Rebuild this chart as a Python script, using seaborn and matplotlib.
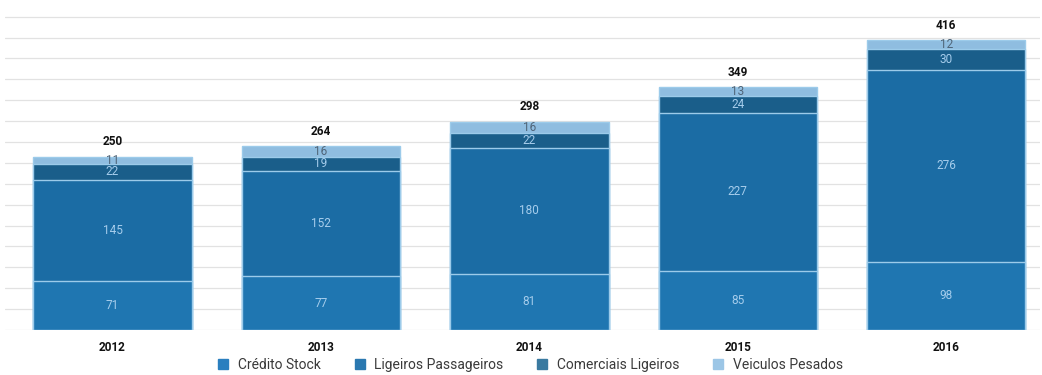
import matplotlib
matplotlib.use("Agg")
import matplotlib.pyplot as plt
import seaborn as sns
import pandas as pd
import numpy as np
from matplotlib.lines import Line2D

years = ["2012", "2013", "2014", "2015", "2016"]
credito_stock = [71, 77, 81, 85, 98]
ligeiros_passageiros = [145, 152, 180, 227, 276]
comerciais_ligeiros = [22, 19, 22, 24, 30]
veiculos_pesados = [11, 16, 16, 13, 12]
totals = [250, 264, 298, 349, 416]

series_names = ["Crédito Stock", "Ligeiros Passageiros", "Comerciais Ligeiros", "Veiculos Pesados"]
series_values = [credito_stock, ligeiros_passageiros, comerciais_ligeiros, veiculos_pesados]
colors = ["#1f76b1", "#1b6ca4", "#1a5e8a", "#8fbde0"]
legend_colors = ["#2a7fbf", "#2a78b0", "#3a7aa0", "#9cc6e6"]
label_colors = ["#a6cdec", "#a6cdec", "#a6cdec", "#4f6478"]

sns.set_theme(style="white")
plt.rcParams['font.family'] = ['Roboto', 'DejaVu Sans']

fig = plt.figure(figsize=(10.42, 3.75), dpi=100)
ax = fig.add_axes([0.005, 0.12, 0.993, 0.845])

df = pd.DataFrame({"year": years})
cum = np.cumsum(np.array(series_values), axis=0)
# draw tallest cumulative first so lower segments overlay
for i in range(len(series_names) - 1, -1, -1):
    df["v"] = cum[i]
    sns.barplot(data=df, x="year", y="v", color=colors[i], width=0.76,
                edgecolor="#9ccbea", linewidth=1.0, saturation=1, ax=ax, zorder=3)

# segment labels
for j in range(len(years)):
    bottom = 0
    for i, vals in enumerate(series_values):
        v = vals[j]
        ax.text(j, bottom + v / 2, str(v), ha="center", va="center",
                fontsize=8.5, color=label_colors[i], zorder=5)
        bottom += v
    ax.text(j, bottom + 12, str(totals[j]), ha="center", va="bottom",
            fontsize=8.5, fontweight="bold", color="#111111", zorder=5)

ax.set_ylim(0, 455)
ax.set_xlim(-0.515, 4.45)
ax.set_yticks(np.arange(0, 451, 30))
ax.yaxis.grid(True, color="#e2e2e2", linewidth=0.9, zorder=0)
ax.set_axisbelow(True)
ax.tick_params(axis="y", left=False, labelleft=False)
ax.tick_params(axis="x", bottom=False, pad=2)
for lab in ax.get_xticklabels():
    lab.set_fontweight("bold")
    lab.set_fontsize(8.5)
    lab.set_color("#111111")
ax.set_xlabel("")
ax.set_ylabel("")
for s in ax.spines.values():
    s.set_visible(False)

handles = [Line2D([0], [0], marker="s", linestyle="none", markersize=7,
                  markerfacecolor=c, markeredgecolor=c) for c in legend_colors]
fig.legend(handles, series_names, loc="center", bbox_to_anchor=(0.505, 0.027),
           ncol=4, frameon=False, fontsize=10, handletextpad=0.05,
           columnspacing=1.8, labelcolor="#3a3a3a")

fig.savefig("out.png", dpi=100)
